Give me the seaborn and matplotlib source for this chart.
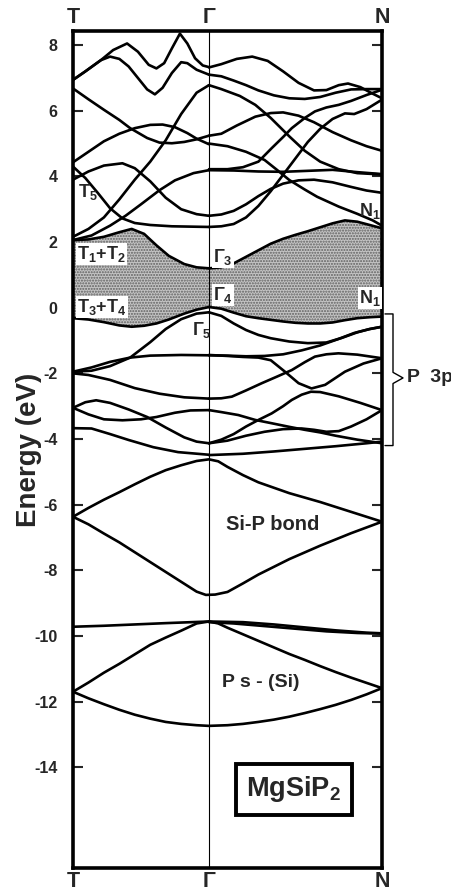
import numpy as np
import pandas as pd
import matplotlib
matplotlib.use("Agg")
import matplotlib.pyplot as plt
import seaborn as sns

# ---------------- data (k along path: T=0, Gamma=0.44, N=1 ; E in eV) -------------
k_ticks = [0.0, 0.44, 1.0]
k_labels = ["T", "Γ", "N"]
y_ticks = [8, 6, 4, 2, 0, -2, -4, -6, -8, -10, -12, -14]

# T -> Gamma conduction bands
A_k = [0, .04, .09, .13, .175, .21, .245, .27, .295, .32, .346, .37, .395, .42, .44]
A_E = [6.94, 7.20, 7.54, 7.85, 8.05, 7.80, 7.40, 7.29, 7.45, 7.90, 8.35, 8.05, 7.60, 7.38, 7.33]
B_k = [0, .04, .09, .12, .15, .18, .21, .24, .265, .29, .32, .35, .37, .40, .44]
B_E = [6.94, 7.20, 7.54, 7.65, 7.58, 7.35, 7.00, 6.65, 6.50, 6.70, 7.15, 7.48, 7.45, 7.25, 7.10]
C_k = [0, .05, .10, .15, .185, .24, .28, .32, .36, .40, .44]
C_E = [6.68, 6.35, 6.03, 5.72, 5.47, 5.17, 5.03, 5.01, 5.05, 5.13, 5.24]
F_k = [0, .05, .10, .15, .20, .25, .29, .33, .37, .40, .44]
F_E = [4.43, 4.75, 5.07, 5.30, 5.47, 5.57, 5.58, 5.50, 5.32, 5.15, 4.98]
D_k = [0, .05, .10, .15, .20, .25, .30, .35, .40, .44]
D_E = [2.16, 2.40, 2.75, 3.30, 3.90, 4.45, 5.10, 5.90, 6.55, 6.78]
E_k = [0, .06, .12, .17, .22, .28, .33, .39, .44]
E_E = [2.06, 2.20, 2.50, 2.80, 3.15, 3.58, 3.88, 4.10, 4.19]
b_k = [0, .05, .10, .16, .20, .25, .30, .35, .40, .44]
b_E = [3.90, 4.15, 4.33, 4.40, 4.25, 3.85, 3.35, 3.00, 2.85, 2.80]
c_k = [0, .04, .08, .12, .16, .20, .25, .32, .44]
c_E = [4.30, 3.95, 3.50, 3.03, 2.72, 2.58, 2.52, 2.48, 2.46]

# gap edges T -> Gamma (same k grid)
gapL_k = [0, .05, .10, .15, .19, .23, .27, .31, .36, .40, .44]
gapL_top = [2.06, 2.08, 2.16, 2.30, 2.40, 2.25, 1.90, 1.58, 1.33, 1.23, 1.20]
gapL_bot = [-0.32, -0.36, -0.44, -0.54, -0.58, -0.55, -0.48, -0.36, -0.18, -0.06, 0.02]

# Gamma -> N conduction bands
R1_k = [.44, .48, .53, .58, .63, .68, .73, .78, .82, .86, .89, .93, .97, 1.0]
R1_E = [7.32, 7.42, 7.58, 7.65, 7.52, 7.20, 6.85, 6.62, 6.63, 6.78, 6.83, 6.72, 6.52, 6.38]
R2_k = [.44, .48, .52, .56, .60, .65, .70, .75, .80, .85, .90, .95, 1.0]
R2_E = [7.10, 7.05, 6.92, 6.78, 6.62, 6.47, 6.38, 6.36, 6.42, 6.55, 6.65, 6.66, 6.66]
R3_k = [.44, .48, .54, .59, .64, .70, .75, .80, .86, .92, 1.0]
R3_E = [6.78, 6.66, 6.45, 6.18, 5.78, 5.22, 4.78, 4.45, 4.22, 4.10, 4.06]
R4_k = [.44, .48, .53, .59, .64, .68, .73, .78, .84, .90, .95, 1.0]
R4_E = [5.24, 5.30, 5.55, 5.82, 5.93, 5.95, 5.85, 5.65, 5.35, 5.10, 4.92, 4.78]
R5_k = [.44, .50, .56, .62, .66, .70, .75, .79, .86, .92, .97, 1.0]
R5_E = [5.00, 4.92, 4.75, 4.50, 4.20, 3.89, 3.60, 3.38, 3.08, 2.86, 2.66, 2.50]
R6_k = [.44, .52, .60, .68, .76, .84, .92, 1.0]
R6_E = [4.19, 4.18, 4.15, 4.14, 4.17, 4.20, 4.13, 4.07]
R6b_k = [.44, .50, .55, .60, .643, .68, .708, .75, .783, .82, .86, .90, .95, 1.0]
R6b_E = [4.22, 4.22, 4.28, 4.45, 4.86, 5.20, 5.47, 5.78, 5.98, 6.10, 6.18, 6.30, 6.48, 6.64]
R7_k = [.44, .48, .52, .56, .60, .64, .68, .73, .78, .84, .90, .95, 1.0]
R7_E = [2.80, 2.84, 2.95, 3.15, 3.40, 3.62, 3.78, 3.88, 3.90, 3.82, 3.68, 3.57, 3.50]
R8_k = [.44, .48, .52, .56, .60, .64, .68, .72, .76, .80, .84, .88, .91, .95, 1.0]
R8_E = [2.46, 2.48, 2.55, 2.75, 3.10, 3.55, 4.05, 4.55, 5.05, 5.45, 5.75, 5.92, 5.90, 6.05, 6.34]

# gap edges Gamma -> N (same k grid)
gapR_k = [.44, .48, .52, .56, .60, .64, .68, .72, .76, .80, .84, .88, .92, .96, 1.0]
gapR_top = [1.20, 1.23, 1.35, 1.55, 1.75, 1.95, 2.10, 2.22, 2.33, 2.45, 2.57, 2.66, 2.62, 2.52, 2.42]
gapR_bot = [0.02, -0.03, -0.15, -0.26, -0.32, -0.37, -0.42, -0.46, -0.48, -0.48, -0.45, -0.38, -0.32, -0.29, -0.27]

# T -> Gamma valence bands
V2_k = [0, .06, .12, .185, .25, .30, .35, .40, .44]
V2_E = [-1.95, -1.92, -1.78, -1.52, -1.05, -0.65, -0.35, -0.18, -0.14]
V3_k = [0, .06, .12, .185, .25, .35, .44]
V3_E = [-1.95, -1.82, -1.65, -1.52, -1.46, -1.44, -1.45]
V4_k = [0, .05, .12, .20, .28, .36, .44]
V4_E = [-2.00, -2.05, -2.20, -2.45, -2.62, -2.73, -2.77]
V5_k = [0, .04, .075, .12, .18, .24, .30, .36, .40, .44]
V5_E = [-3.05, -2.88, -2.82, -2.90, -3.10, -3.33, -3.65, -3.95, -4.08, -4.13]
V6_k = [0, .05, .10, .16, .22, .27, .33, .38, .44]
V6_E = [-3.05, -3.25, -3.40, -3.43, -3.40, -3.33, -3.20, -3.13, -3.12]
V7_k = [0, .06, .12, .18, .26, .34, .44]
V7_E = [-3.67, -3.68, -3.85, -4.03, -4.25, -4.40, -4.48]

# Gamma -> N valence bands
VR2_k = [.44, .48, .52, .56, .60, .64, .70, .76, .82, .87, .92, .96, 1.0]
VR2_E = [-0.14, -0.25, -0.48, -0.68, -0.83, -0.93, -1.03, -1.08, -1.06, -0.92, -0.75, -0.65, -0.58]
VQ_k = [.44, .50, .56, .62, .68, .74, .80, .86, .91, .96, 1.0]
VQ_E = [-1.45, -1.46, -1.48, -1.47, -1.42, -1.30, -1.15, -0.95, -0.77, -0.65, -0.58]
VP_k = [.44, .50, .55, .60, .64, .686, .73, .772, .816, .88, .94, 1.0]
VP_E = [-1.44, -1.47, -1.50, -1.52, -1.60, -1.95, -2.30, -2.46, -2.35, -1.95, -1.70, -1.54]
VS_k = [.44, .48, .514, .56, .611, .66, .708, .75, .783, .82, .859, .92, 1.0]
VS_E = [-2.77, -2.76, -2.71, -2.52, -2.30, -2.10, -1.90, -1.66, -1.49, -1.42, -1.39, -1.43, -1.54]
VT_k = [.44, .48, .535, .59, .643, .70, .75, .80, .85, .92, 1.0]
VT_E = [-3.12, -3.18, -3.27, -3.42, -3.52, -3.63, -3.72, -3.80, -3.90, -4.02, -4.13]
VU_k = [.44, .48, .52, .56, .60, .643, .68, .708, .74, .77, .80, .86, .93, 1.0]
VU_E = [-4.13, -4.02, -3.85, -3.62, -3.42, -3.22, -3.00, -2.81, -2.65, -2.56, -2.57, -2.70, -2.90, -3.12]
VV_k = [.44, .50, .56, .62, .68, .74, .78, .82, .86, .90, .95, 1.0]
VV_E = [-4.13, -4.05, -3.90, -3.78, -3.70, -3.68, -3.72, -3.78, -3.76, -3.62, -3.40, -3.12]
VW_k = [.44, .55, .65, .75, .85, .95, 1.0]
VW_E = [-4.49, -4.45, -4.38, -4.30, -4.22, -4.13, -4.08]

# Si-P bond bands
SPu_k = [0, .05, .10, .15, .20, .25, .30, .35, .40, .44, .47, .50, .55, .60, .70, .80, .90, 1.0]
SPu_E = [-6.37, -6.10, -5.85, -5.62, -5.38, -5.15, -4.95, -4.80, -4.67, -4.62, -4.68, -4.85, -5.10, -5.32, -5.65, -5.92, -6.22, -6.52]
SPl_k = [0, .05, .10, .15, .20, .25, .30, .35, .40, .43, .46, .50, .55, .60, .70, .80, .90, 1.0]
SPl_E = [-6.37, -6.60, -6.88, -7.15, -7.45, -7.75, -8.05, -8.35, -8.65, -8.75, -8.74, -8.66, -8.40, -8.13, -7.66, -7.25, -6.87, -6.52]

# P s - (Si) bands
PsF_k = [0, .10, .20, .30, .44]
PsF_E = [-9.72, -9.69, -9.65, -9.61, -9.56]
PsR1_k = [.44, .55, .65, .75, .85, .95, 1.0]
PsR1_E = [-9.56, -9.58, -9.65, -9.74, -9.83, -9.90, -9.92]
PsR2_k = [.44, .52, .62, .72, .82, .92, 1.0]
PsR2_E = [-9.58, -9.62, -9.70, -9.78, -9.86, -9.91, -9.93]
PsU_k = [0, .05, .10, .15, .20, .25, .30, .35, .40, .44, .47, .50, .55, .60, .65, .70, .75, .80, .85, .90, .95, 1.0]
PsU_E = [-11.70, -11.42, -11.12, -10.85, -10.56, -10.27, -10.05, -9.84, -9.62, -9.56, -9.62, -9.75, -9.95, -10.15, -10.35, -10.55, -10.73, -10.92, -11.10, -11.27, -11.43, -11.59]
PsL_k = [0, .05, .10, .15, .20, .25, .30, .35, .40, .44, .50, .55, .60, .65, .70, .75, .80, .85, .90, .95, 1.0]
PsL_E = [-11.70, -11.90, -12.08, -12.25, -12.40, -12.52, -12.62, -12.68, -12.72, -12.74, -12.72, -12.68, -12.62, -12.55, -12.46, -12.35, -12.23, -12.10, -11.95, -11.78, -11.59]

bands = {
    "A": (A_k, A_E), "B": (B_k, B_E), "C": (C_k, C_E), "F": (F_k, F_E),
    "D": (D_k, D_E), "E": (E_k, E_E), "b": (b_k, b_E), "c": (c_k, c_E),
    "gapLt": (gapL_k, gapL_top), "gapLb": (gapL_k, gapL_bot),
    "R1": (R1_k, R1_E), "R2": (R2_k, R2_E), "R3": (R3_k, R3_E), "R4": (R4_k, R4_E),
    "R5": (R5_k, R5_E), "R6": (R6_k, R6_E), "R6b": (R6b_k, R6b_E), "R7": (R7_k, R7_E),
    "R8": (R8_k, R8_E), "gapRt": (gapR_k, gapR_top), "gapRb": (gapR_k, gapR_bot),
    "V2": (V2_k, V2_E), "V3": (V3_k, V3_E), "V4": (V4_k, V4_E), "V5": (V5_k, V5_E),
    "V6": (V6_k, V6_E), "V7": (V7_k, V7_E),
    "VR2": (VR2_k, VR2_E), "VQ": (VQ_k, VQ_E), "VP": (VP_k, VP_E), "VS": (VS_k, VS_E),
    "VT": (VT_k, VT_E), "VU": (VU_k, VU_E), "VV": (VV_k, VV_E), "VW": (VW_k, VW_E),
    "SPu": (SPu_k, SPu_E), "SPl": (SPl_k, SPl_E),
    "PsF": (PsF_k, PsF_E), "PsR1": (PsR1_k, PsR1_E), "PsR2": (PsR2_k, PsR2_E),
    "PsU": (PsU_k, PsU_E), "PsL": (PsL_k, PsL_E),
}

rows = []
for name, (ks, es) in bands.items():
    for i, (kk, ee) in enumerate(zip(ks, es)):
        rows.append((name, i, kk, ee))
df = pd.DataFrame(rows, columns=["band", "i", "k", "E"])

# ---------------- style ----------------
sns.set_theme(style="white")
plt.rcParams["font.family"] = ["Liberation Sans", "DejaVu Sans"]
plt.rcParams["font.weight"] = "bold"
plt.rcParams["axes.unicode_minus"] = False
plt.rcParams["mathtext.fontset"] = "custom"
plt.rcParams["mathtext.rm"] = "Liberation Sans:bold"
plt.rcParams["mathtext.bf"] = "Liberation Sans:bold"
plt.rcParams["mathtext.default"] = "bf"
plt.rcParams["hatch.linewidth"] = 1.0

fig = plt.figure(figsize=(4.52, 8.92), dpi=100)
ax = fig.add_axes([73 / 452, 1 - 868 / 892, 309 / 452, 837 / 892])

# shaded band gap
ax.fill_between(gapL_k, gapL_bot, gapL_top, facecolor="#c4c4c4", edgecolor="#606060",
                hatch="......", linewidth=0, zorder=1)
ax.fill_between(gapR_k, gapR_bot, gapR_top, facecolor="#c4c4c4", edgecolor="#606060",
                hatch="......", linewidth=0, zorder=1)

sns.lineplot(data=df, x="k", y="E", units="band", estimator=None, sort=False,
             color="black", linewidth=1.9, ax=ax, legend=False, zorder=3)

ax.axvline(k_ticks[1], color="black", linewidth=0.8, zorder=2)

ax.set_xlim(0, 1)
ax.set_ylim(-17.07, 8.43)
ax.set_xlabel("")
ax.set_ylabel("Energy (eV)", fontsize=20, fontweight="bold")
ax.yaxis.set_label_coords(-0.10, 0.5)

ax.set_yticks(y_ticks)
ax.set_yticklabels([str(t) for t in y_ticks], fontsize=11.5, fontweight="bold")
ax.tick_params(axis="y", which="both", direction="in", length=7, width=1.5,
               left=True, right=True, pad=11)
ax.set_xticks(k_ticks)
ax.set_xticklabels(k_labels, fontsize=15.5, fontweight="bold")
ax.tick_params(axis="x", length=0, top=True, bottom=True, labeltop=True,
               labelbottom=True, pad=2)
for s in ax.spines.values():
    s.set_linewidth(2.6)
    s.set_color("black")

# symmetry labels
wb = dict(facecolor="white", edgecolor="none", pad=0.8)
fs = 13
ax.text(0.016, 3.52, r"T$_5$", fontsize=fs, ha="left", va="center", zorder=5)
ax.text(0.014, 1.64, r"T$_1$+T$_2$", fontsize=fs, ha="left", va="center", bbox=wb, zorder=5)
ax.text(0.014, 0.02, r"T$_3$+T$_4$", fontsize=fs, ha="left", va="center", bbox=wb, zorder=5)
ax.text(0.453, 1.54, r"Γ$_3$", fontsize=fs, ha="left", va="center", bbox=wb, zorder=5)
ax.text(0.453, 0.39, r"Γ$_4$", fontsize=fs, ha="left", va="center", bbox=wb, zorder=5)
ax.text(0.385, -0.68, r"Γ$_5$", fontsize=fs, ha="left", va="center", zorder=5)
ax.text(0.997, 2.95, r"N$_1$", fontsize=fs, ha="right", va="center", zorder=5)
ax.text(0.997, 0.30, r"N$_1$", fontsize=fs, ha="right", va="center", bbox=wb, zorder=5)

ax.text(0.647, -6.62, "Si-P bond", fontsize=14.5, ha="center", va="center")
ax.text(0.608, -11.41, "P s - (Si)", fontsize=14, ha="center", va="center")
ax.text(0.715, -14.67, r"MgSiP$_2$", fontsize=19.5, ha="center", va="center",
        bbox=dict(facecolor="white", edgecolor="black", linewidth=2.8, boxstyle="square,pad=0.38"))

# P 3p brace (outside right axis)
bx = [1.0097, 1.0356, 1.0356, 1.068, 1.0356, 1.0356, 1.0097]
by = [-0.19, -0.19, -1.97, -2.14, -2.31, -4.20, -4.20]
ax.plot(bx, by, color="black", linewidth=1.0, clip_on=False)
ax.text(1.081, -2.14, "P  3p", fontsize=14, ha="left", va="center", clip_on=False)

fig.savefig("out.png", dpi=100)
